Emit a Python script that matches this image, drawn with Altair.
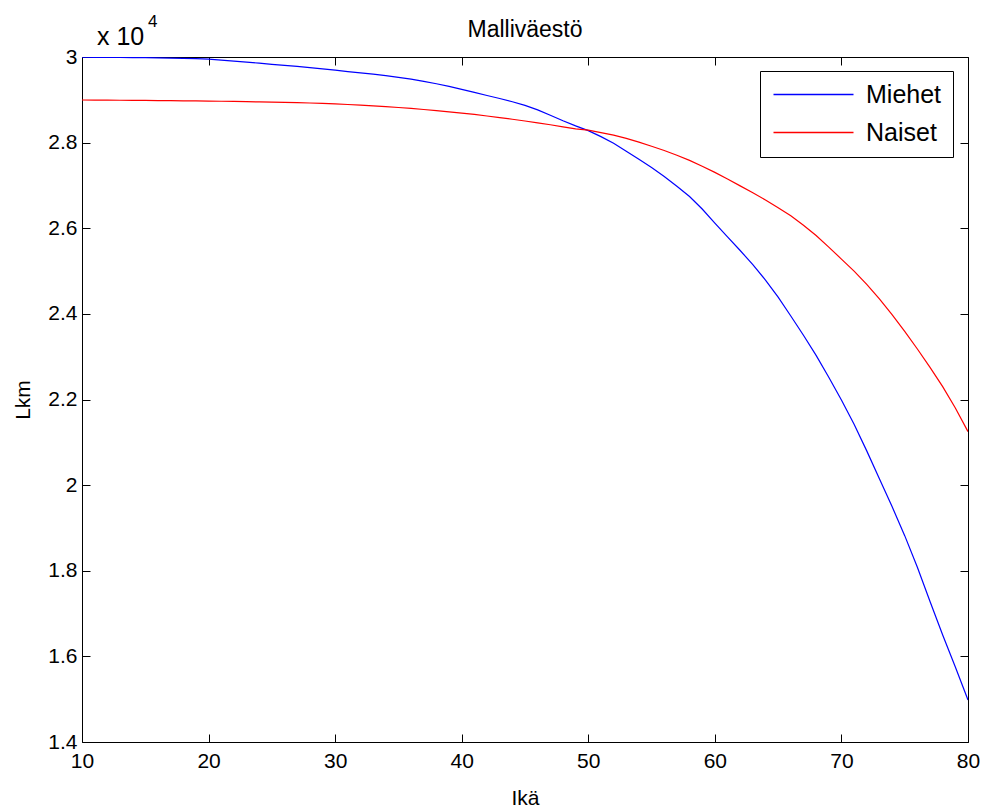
import altair as alt
import pandas as pd

ages = list(range(10, 81))
miehet = [29995, 29993, 29991, 29989, 29987, 29984, 29980, 29975, 29970, 29962,
          29950, 29928, 29905, 29880, 29855, 29830, 29805, 29780, 29752, 29722,
          29692, 29660, 29628, 29598, 29563, 29525, 29482, 29432, 29375, 29312,
          29245, 29172, 29100, 29030, 28955, 28870, 28765, 28638, 28510, 28390,
          28280, 28140, 27985, 27800, 27610, 27420, 27210, 26980, 26740, 26450,
          26120, 25800, 25480, 25150, 24790, 24390, 23950, 23500, 23030, 22520,
          21990, 21420, 20800, 20150, 19500, 18820, 18080, 17280, 16500, 15750,
          14980]
naiset = [28996, 28994, 28992, 28990, 28988, 28985, 28982, 28979, 28976, 28973,
          28970, 28966, 28962, 28957, 28952, 28946, 28940, 28933, 28925, 28915,
          28905, 28890, 28875, 28858, 28840, 28820, 28798, 28774, 28748, 28720,
          28690, 28658, 28622, 28585, 28546, 28505, 28462, 28418, 28370, 28320,
          28290, 28235, 28175, 28100, 28010, 27915, 27815, 27705, 27585, 27450,
          27305, 27150, 26990, 26830, 26660, 26480, 26290, 26070, 25830, 25560,
          25280, 25000, 24690, 24350, 23980, 23590, 23180, 22750, 22300, 21800,
          21250]
series_names = ["Miehet", "Naiset"]
series_colors = ["#0000ff", "#ff0000"]
x_ticks = [10, 20, 30, 40, 50, 60, 70, 80]
y_ticks = [14000, 16000, 18000, 20000, 22000, 24000, 26000, 28000, 30000]
title_text = ["Malliväestö"]
x_title = "Ikä"
y_title = "Lkm"
exp_base = ["x 10"]
exp_power = ["4"]

FONT = "Liberation Sans"

df = pd.DataFrame({
    "Ikä": ages + ages,
    "Lkm": miehet + naiset,
    "Sarja": [series_names[0]] * len(ages) + [series_names[1]] * len(ages),
})

xscale = alt.Scale(domain=[10, 80], nice=False, zero=False)
yscale = alt.Scale(domain=[14000, 30000], nice=False, zero=False)

TICK = 8

lines = alt.Chart(df).mark_line(strokeWidth=1.2, clip=True).encode(
    x=alt.X("Ikä:Q", scale=xscale,
            axis=alt.Axis(orient="bottom", values=x_ticks, title=x_title,
                          offset=-TICK, tickSize=TICK, domain=False,
                          labelFlush=False, labelOverlap=False,
                          labelPadding=8, titlePadding=16, grid=False)),
    y=alt.Y("Lkm:Q", scale=yscale,
            axis=alt.Axis(orient="left", values=y_ticks, title=y_title,
                          labelExpr="format(datum.value/10000, '.1~f')",
                          offset=-TICK, tickSize=TICK, domain=False,
                          labelFlush=False, labelOverlap=False,
                          labelPadding=5, titlePadding=14, grid=False)),
    color=alt.Color("Sarja:N",
                    scale=alt.Scale(domain=series_names, range=series_colors),
                    legend=alt.Legend(title=None, orient="none",
                                      legendX=678, legendY=14,
                                      symbolType="M-1,0H7", symbolSize=400,
                                      symbolStrokeWidth=1.5,
                                      labelFontSize=25, labelFont=FONT,
                                      labelColor="black", labelOffset=70,
                                      rowPadding=12, padding=11,
                                      strokeColor="black", fillColor="white",
                                      cornerRadius=0)),
)

frame = alt.Chart(df).mark_line(strokeOpacity=0, clip=True).encode(
    x=alt.X("Ikä:Q", scale=xscale,
            axis=alt.Axis(orient="top", values=x_ticks, title=None,
                          labels=False, offset=-TICK, tickSize=TICK,
                          domain=False, grid=False)),
    y=alt.Y("Lkm:Q", scale=yscale,
            axis=alt.Axis(orient="right", values=y_ticks, title=None,
                          labels=False, offset=-TICK, tickSize=TICK,
                          domain=False, grid=False)),
    detail="Sarja:N",
)

title_mark = alt.Chart(pd.DataFrame({"t": title_text})).mark_text(
    align="center", baseline="middle", fontSize=23, font=FONT, color="black"
).encode(text="t:N", x=alt.value(443), y=alt.value(-27))

exp1 = alt.Chart(pd.DataFrame({"t": exp_base})).mark_text(
    align="left", baseline="alphabetic", fontSize=25, font=FONT, color="black"
).encode(text="t:N", x=alt.value(15), y=alt.value(-12))

exp2 = alt.Chart(pd.DataFrame({"t": exp_power})).mark_text(
    align="left", baseline="alphabetic", fontSize=17, font=FONT, color="black"
).encode(text="t:N", x=alt.value(66), y=alt.value(-30))

chart = alt.layer(lines, frame, title_mark, exp1, exp2).resolve_axis(
    x="independent", y="independent"
).properties(
    width=886, height=685,
    autosize=alt.AutoSizeParams(type="none"),
    padding={"left": 82, "top": 57, "right": 13, "bottom": 68},
).configure_view(
    stroke="black", strokeWidth=1
).configure_axis(
    labelFont=FONT, titleFont=FONT, labelFontSize=21, titleFontSize=21,
    titleFontWeight="normal", labelColor="black", titleColor="black",
    tickColor="black", tickWidth=1
)

chart.save("out.html", embed_options={"renderer": "svg", "actions": False})
